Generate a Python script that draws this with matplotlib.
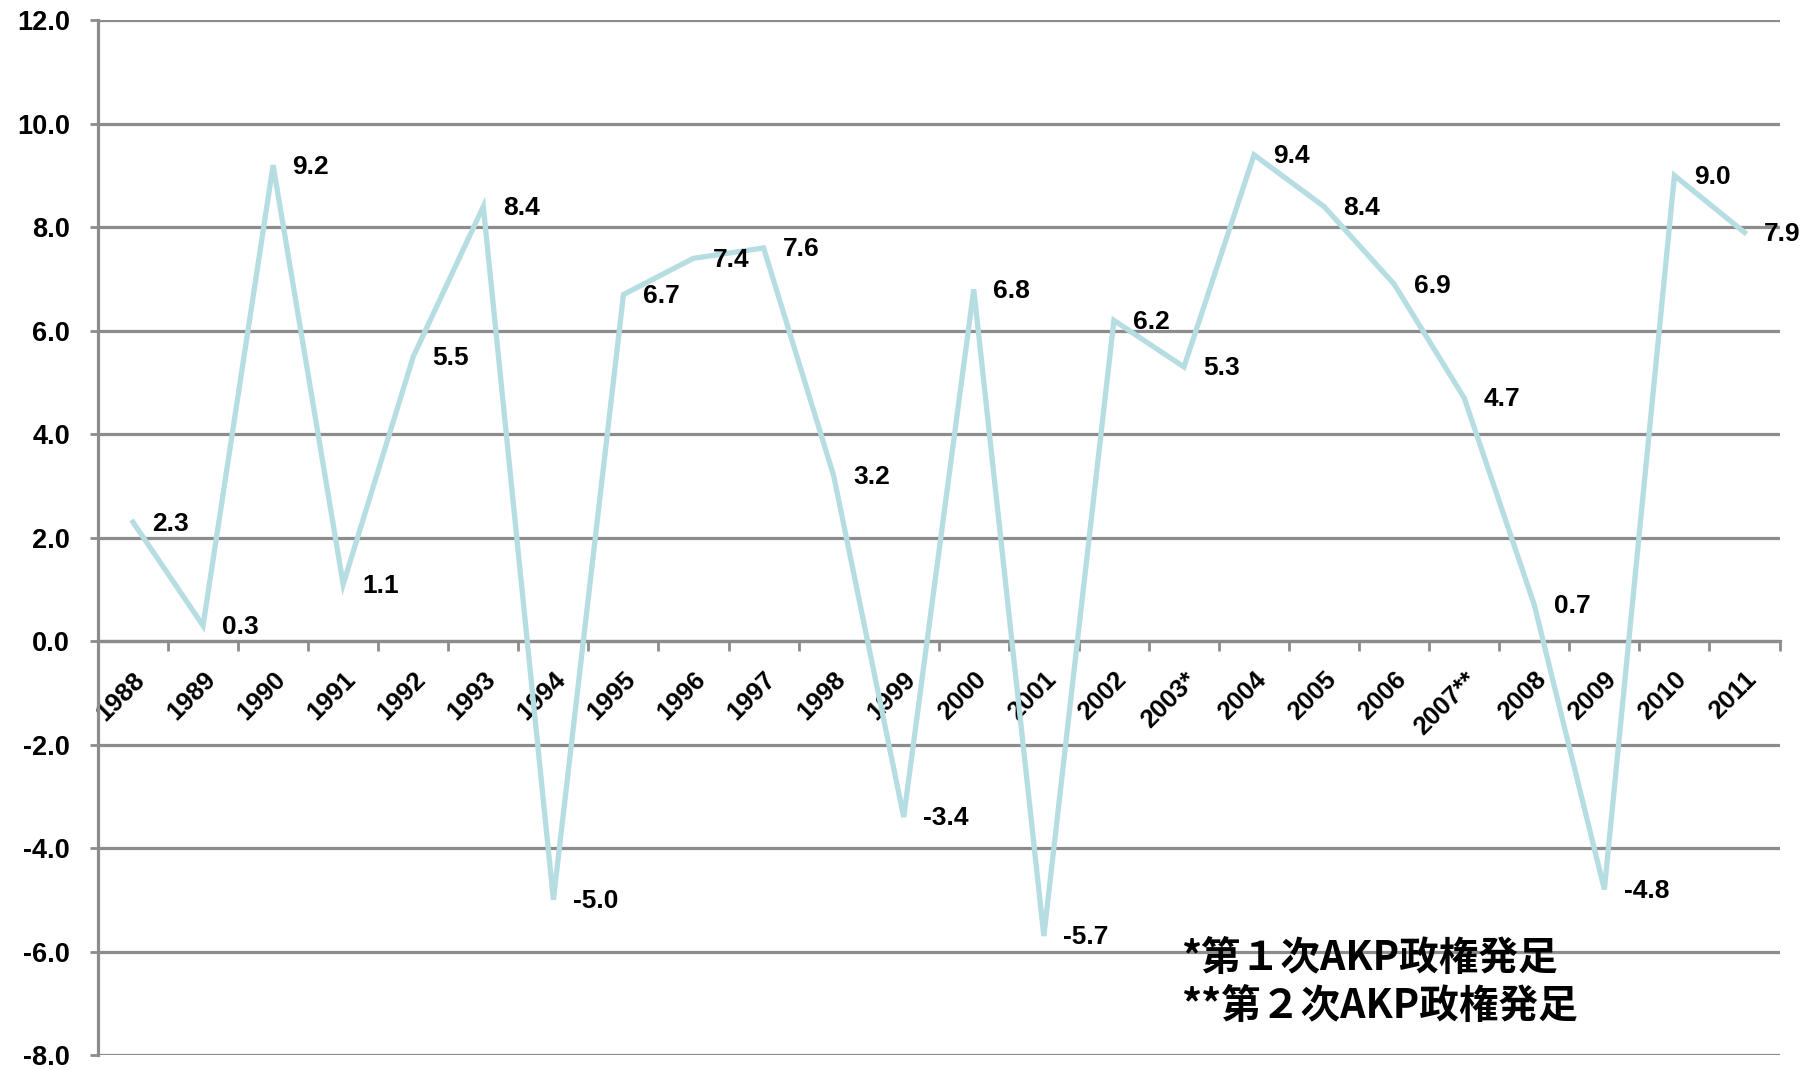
import numpy as np
import matplotlib
matplotlib.use('Agg')
import matplotlib.pyplot as plt

years = ['1988', '1989', '1990', '1991', '1992', '1993', '1994', '1995',
         '1996', '1997', '1998', '1999', '2000', '2001', '2002', '2003*',
         '2004', '2005', '2006', '2007**', '2008', '2009', '2010', '2011']
growth = [2.3, 0.3, 9.2, 1.1, 5.5, 8.4, -5.0, 6.7,
          7.4, 7.6, 3.2, -3.4, 6.8, -5.7, 6.2, 5.3,
          9.4, 8.4, 6.9, 4.7, 0.7, -4.8, 9.0, 7.9]
notes = ['*第１次AKP政権発足', '**第２次AKP政権発足']

plt.rcParams['font.family'] = ['Liberation Sans', 'DejaVu Sans']
grid_c = '#8c8c8c'
line_c = '#b5dde2'

fig = plt.figure(figsize=(18.14, 10.70), dpi=100)
ax = fig.add_axes([0.054, 0.014, 0.927, 0.967])

x = np.arange(len(years))
ax.plot(x, growth, color=line_c, lw=3.8, solid_joinstyle='miter', zorder=3)

for xi, v in zip(x, growth):
    ax.annotate('%.1f' % v, (xi, v), xytext=(14, -1), textcoords='offset points',
                ha='left', va='center', fontsize=19, fontweight='bold', zorder=4)

ax.set_xlim(-0.5, len(years) - 0.5)
ax.set_ylim(-8, 12)

# horizontal gridlines
yt = np.arange(-8, 12.1, 2)
ax.set_yticks(yt)
ax.set_yticklabels(['%.1f' % t for t in yt], fontsize=19.5, fontweight='bold')
for t in yt:
    ax.axhline(t, color=grid_c, lw=2.3, zorder=1)

# category axis sits on zero
for s in ['top', 'right']:
    ax.spines[s].set_visible(False)
ax.spines['bottom'].set_position(('data', 0))
ax.spines['bottom'].set_color(grid_c)
ax.spines['bottom'].set_linewidth(2.3)
ax.spines['left'].set_color(grid_c)
ax.spines['left'].set_linewidth(2.3)

ax.set_xticks(x)
ax.set_xticklabels(years, rotation=45, ha='right', rotation_mode='anchor',
                   fontsize=18.5, fontweight='bold')
ax.set_xticks(np.arange(0.5, len(years) - 0.4, 1), minor=True)
ax.tick_params(axis='x', which='major', length=0, pad=19)
ax.tick_params(axis='x', which='minor', length=7, width=2, color=grid_c, direction='out')
ax.tick_params(axis='y', length=6, width=2, color=grid_c, direction='out', pad=14)

for i, n in enumerate(notes):
    fig.text(0.651, 0.104 - i * 0.045, n, fontsize=28.5, fontweight='bold',
             family=['Noto Sans CJK JP', 'DejaVu Sans'], ha='left', va='center')

fig.savefig('out.png', dpi=100, facecolor='white')
